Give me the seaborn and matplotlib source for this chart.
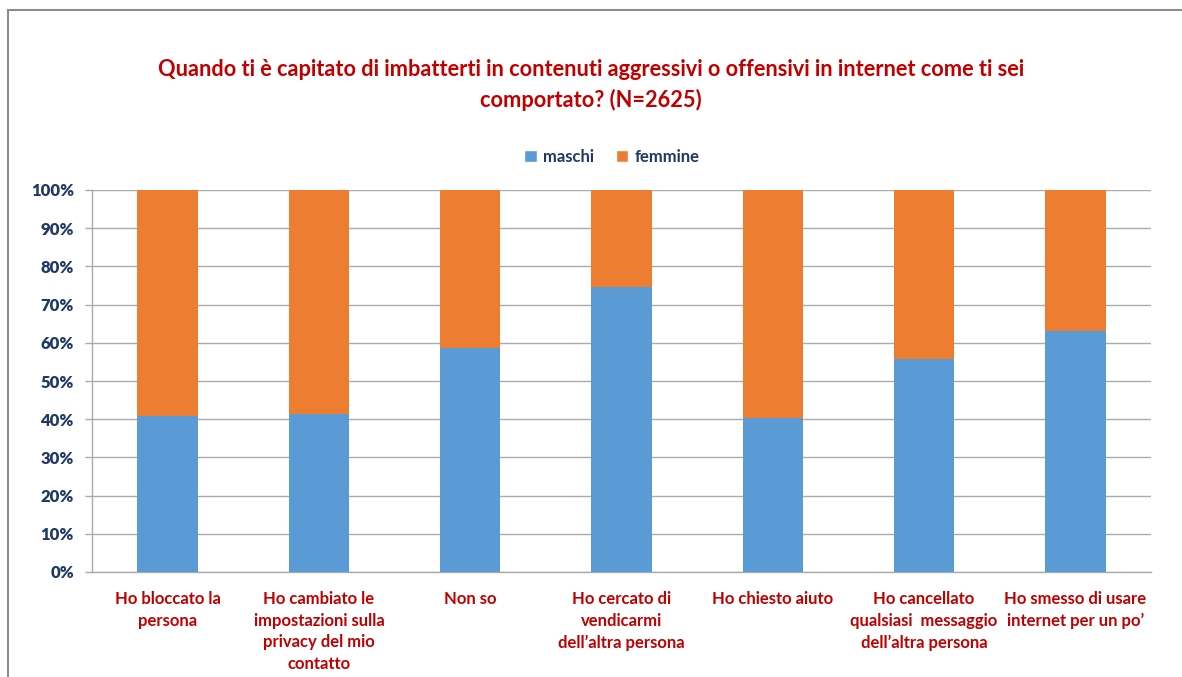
import matplotlib
matplotlib.use("Agg")
import matplotlib.pyplot as plt
import seaborn as sns
import pandas as pd
from matplotlib.patches import Rectangle, Patch

categories = [
    "Ho bloccato la\npersona",
    "Ho cambiato le\nimpostazioni sulla\nprivacy del mio\ncontatto",
    "Non so",
    "Ho cercato di\nvendicarmi\ndell\u2019altra persona",
    "Ho chiesto aiuto",
    "Ho cancellato\nqualsiasi  messaggio\ndell\u2019altra persona",
    "Ho smesso di usare\ninternet per un po\u2019",
]
maschi = [40.9, 41.4, 58.7, 74.6, 40.4, 55.7, 63.1]
femmine = [59.1, 58.6, 41.3, 25.4, 59.6, 44.3, 36.9]
series_names = ["maschi", "femmine"]
yticks = [0, 10, 20, 30, 40, 50, 60, 70, 80, 90, 100]
title = "Quando ti è capitato di imbatterti in contenuti aggressivi o offensivi in internet come ti sei\ncomportato? (N=2625)"

BLUE = "#5B9BD5"
ORANGE = "#ED7D31"
RED = "#C00000"
NAVY = "#1F3864"
GRID = "#ABABAB"

sns.set_style("white")
plt.rcParams["font.family"] = ["Lato", "DejaVu Sans"]

df = pd.DataFrame({"cat": categories, "maschi": maschi, "femmine": femmine})
df["total"] = df["maschi"] + df["femmine"]

W, H = 1182, 677
fig = plt.figure(figsize=(W / 100, H / 100), dpi=100)
ax = fig.add_axes([92 / W, 1 - 572 / H, (1151 - 92) / W, (572 - 190) / H])

sns.barplot(data=df, x="cat", y="total", color=ORANGE, width=0.4, ax=ax,
            saturation=1, zorder=3, edgecolor="none")
sns.barplot(data=df, x="cat", y="maschi", color=BLUE, width=0.4, ax=ax,
            saturation=1, zorder=3, edgecolor="none")

ax.set_xlim(-0.5, len(categories) - 0.5)
ax.set_ylim(0, 100)
ax.set_yticks(yticks)
ax.set_yticklabels([f"{v}%" for v in yticks], color=NAVY, fontsize=12, fontweight="heavy")
ax.yaxis.grid(True, color=GRID, linewidth=1, zorder=0)
ax.set_axisbelow(True)
ax.set_xlabel("")
ax.set_ylabel("")

ax.set_xticks(range(len(categories)))
ax.set_xticklabels(categories, color=RED, fontsize=12, fontweight="bold",
                   linespacing=1.42, va="top")
ax.set_xticks([i + 0.5 for i in range(-1, len(categories))], minor=True)
ax.tick_params(axis="x", which="major", length=0, pad=14)
ax.tick_params(axis="x", which="minor", length=5, color=GRID, width=1)
ax.tick_params(axis="y", length=5, color=GRID, width=1, pad=8, left=True)

for s in ["top", "right"]:
    ax.spines[s].set_visible(False)
for s in ["left", "bottom"]:
    ax.spines[s].set_color(GRID)
    ax.spines[s].set_linewidth(1)

handles = [Patch(facecolor=BLUE, label=series_names[0]),
           Patch(facecolor=ORANGE, label=series_names[1])]
leg = fig.legend(handles=handles, loc="center", bbox_to_anchor=(612 / W, 1 - 157 / H),
                 ncol=2, frameon=False, handlelength=0.75, handleheight=0.75,
                 handletextpad=0.4, columnspacing=1.3,
                 prop={"size": 12, "weight": "bold"})
for t in leg.get_texts():
    t.set_color(NAVY)

fig.text(591 / W, 1 - 85 / H, title, ha="center", va="center", color=RED,
         fontsize=15.7, fontweight="bold", linespacing=1.45)

fig.patches.append(Rectangle((8 / W, -0.1), 1.2, 1 - 10 / H + 0.1,
                             transform=fig.transFigure, fill=False,
                             edgecolor="#8C8C8C", linewidth=1.5))

fig.savefig("out.png", dpi=100)
